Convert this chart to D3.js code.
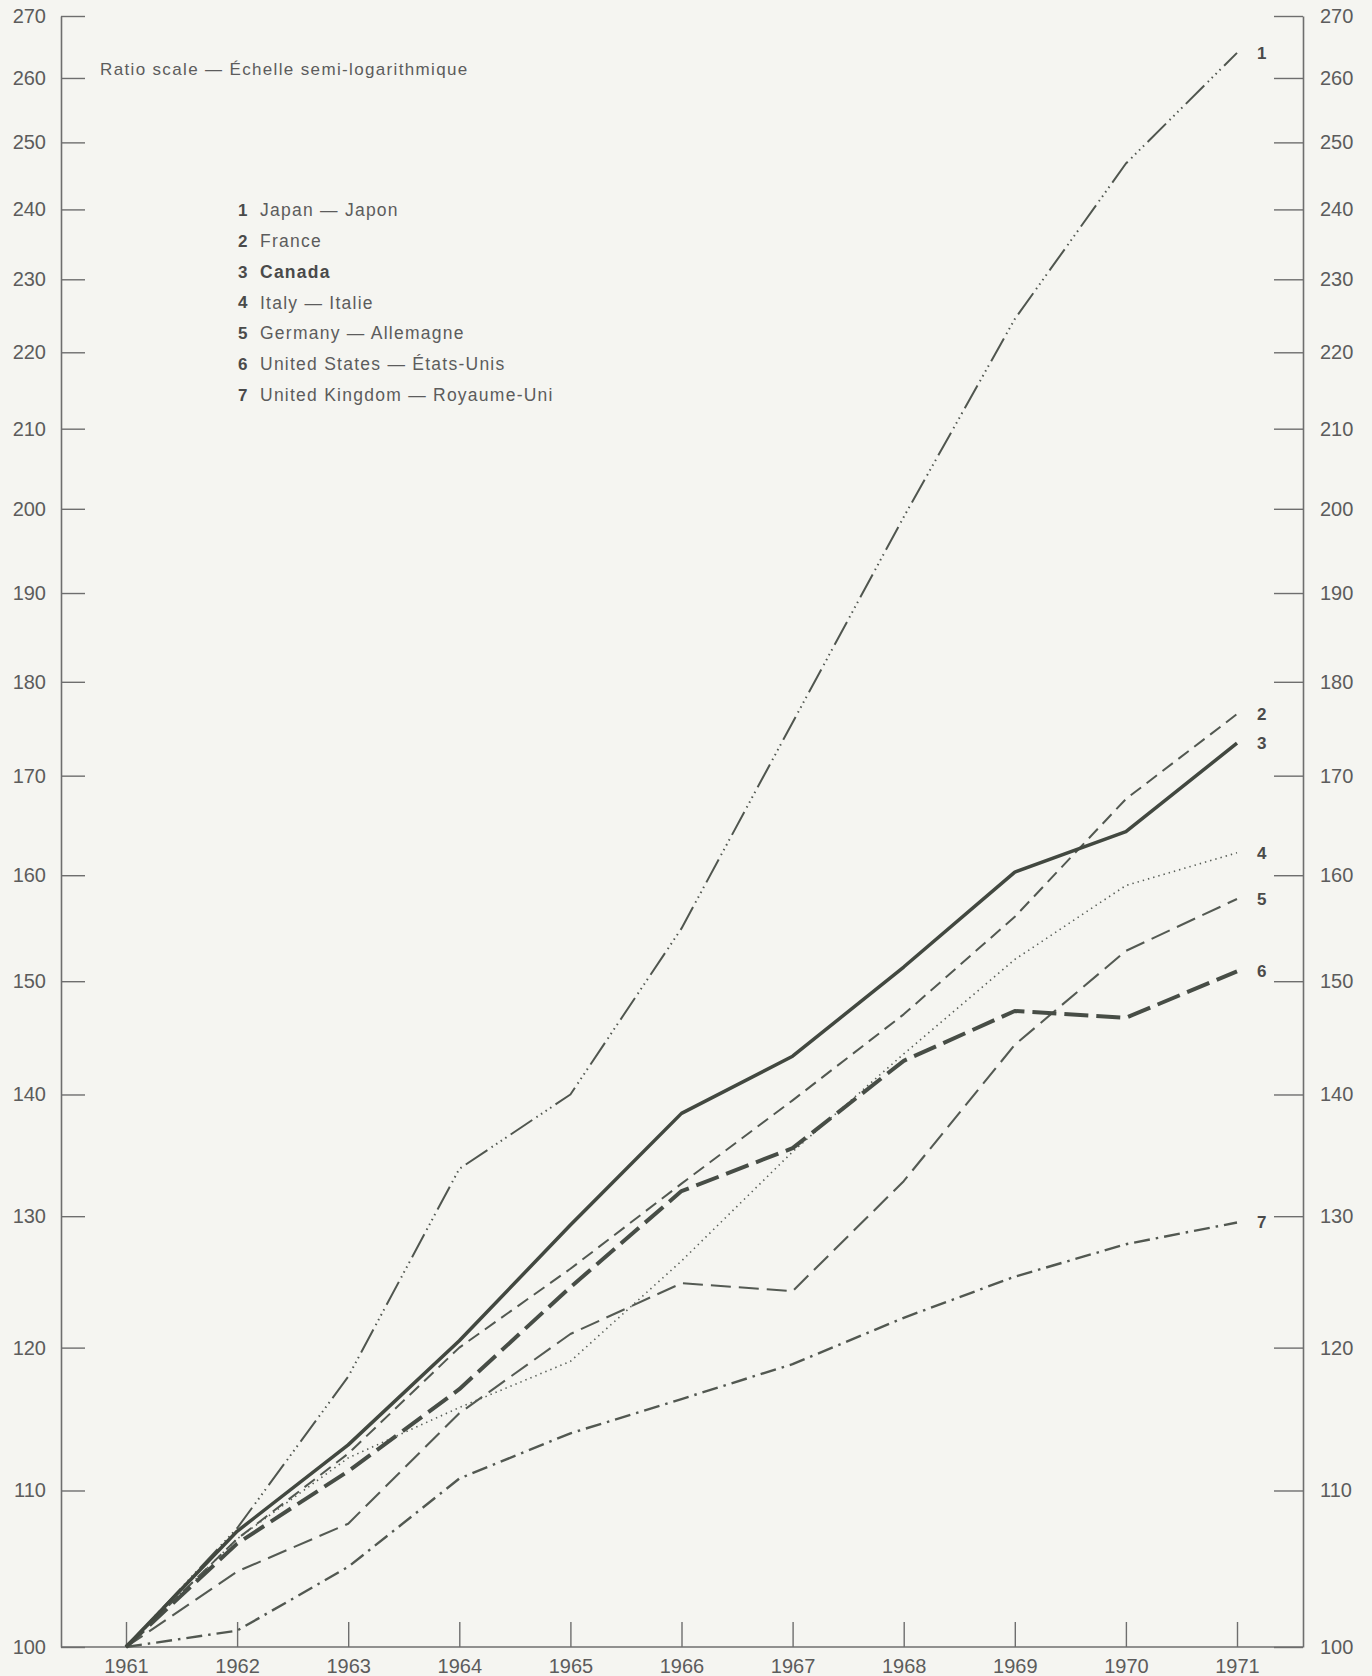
<!DOCTYPE html>
<html>
<head>
<meta charset="utf-8">
<script src="https://cdn.jsdelivr.net/npm/d3@7"></script>
<style>
  html, body { margin: 0; padding: 0; background: #f5f5f1; }
  svg { display: block; }
  text { font-family: "Liberation Sans", Arial, Helvetica, sans-serif; }
</style>
</head>
<body>
<svg id="chart" width="1372" height="1676"></svg>
<script>
// ---- Data (index, 1961 = 100) ----
const years = [1961, 1962, 1963, 1964, 1965, 1966, 1967, 1968, 1969, 1970, 1971];
const yTicks = [100, 110, 120, 130, 140, 150, 160, 170, 180, 190, 200, 210, 220, 230, 240, 250, 260, 270];

const seriesNumbers = ["1", "2", "3", "4", "5", "6", "7"];
const seriesNames = [
  "Japan — Japon",
  "France",
  "Canada",
  "Italy — Italie",
  "Germany — Allemagne",
  "United States — États-Unis",
  "United Kingdom — Royaume-Uni"
];

const japan   = [100, 107.5, 117.9, 133.8, 140.0, 154.9, 175.6, 199.0, 224.5, 246.8, 264.0];
const france  = [100, 106.8, 112.5, 120.0, 125.9, 132.6, 139.5, 147.0, 156.0, 167.6, 176.5];
const canada  = [100, 107.3, 113.1, 120.5, 129.3, 138.4, 143.3, 151.3, 160.3, 164.3, 173.4];
const italy   = [100, 106.8, 112.2, 115.7, 119.0, 126.5, 135.2, 143.5, 152.0, 159.0, 162.2];
const germany = [100, 104.7, 107.8, 115.3, 121.0, 124.8, 124.2, 132.8, 144.3, 152.8, 157.7];
const usa     = [100, 106.5, 111.3, 117.0, 124.5, 132.0, 135.5, 142.9, 147.3, 146.7, 150.9];
const uk      = [100, 101.0, 105.0, 110.8, 113.9, 116.3, 118.8, 122.2, 125.3, 127.8, 129.5];

const seriesValues = [japan, france, canada, italy, germany, usa, uk];

// ---- Styles ----
const lineStyles = [
  { width: 2.0, dash: "26 5 1.5 4 1.5 4 1.5 4 1.5 5", color: "#50564f" }, // Japan
  { width: 2.0, dash: "13 7",                       color: "#525851" }, // France
  { width: 3.5, dash: null,                         color: "#424840" }, // Canada
  { width: 1.6, dash: "1.4 4",                      color: "#575d56" }, // Italy
  { width: 2.1, dash: "20 8",                       color: "#545a53" }, // Germany
  { width: 4.0, dash: "24 8",                       color: "#474d46" }, // United States
  { width: 2.4, dash: "16 6 2.5 6",                 color: "#525851" }  // United Kingdom
];

const svg = d3.select("#chart");

const plotLeft = 61, plotRight = 1303, plotBottom = 1647, plotTop = 16;

const x = d3.scaleLinear().domain([1961, 1971]).range([126, 1237]);
const y = d3.scaleLog().domain([100, 270]).range([plotBottom, plotTop]);

const axisColor = "#6e6e6e";
const labelColor = "#5c5c5c";

// Left axis
const gl = svg.append("g").attr("transform", `translate(${plotLeft},0)`)
  .call(d3.axisLeft(y).tickValues(yTicks).tickFormat(d3.format("d"))
    .tickSize(-24).tickSizeOuter(0).tickPadding(15));
// Right axis
const gr = svg.append("g").attr("transform", `translate(${plotRight},0)`)
  .call(d3.axisRight(y).tickValues(yTicks).tickFormat(d3.format("d"))
    .tickSize(-29).tickSizeOuter(0).tickPadding(17));
// Bottom axis
const gb = svg.append("g").attr("transform", `translate(0,${plotBottom})`)
  .call(d3.axisBottom(x).tickValues(years).tickFormat(d3.format("d"))
    .tickSize(-25).tickSizeOuter(0).tickPadding(12));
gb.select(".domain").remove();
svg.append("line")
  .attr("x1", plotLeft).attr("x2", plotRight)
  .attr("y1", plotBottom).attr("y2", plotBottom)
  .attr("stroke", axisColor).attr("stroke-width", 1.6);

[gl, gr, gb].forEach(g => {
  g.selectAll(".domain").attr("stroke", axisColor).attr("stroke-width", 1.6);
  g.selectAll(".tick line").attr("stroke", axisColor).attr("stroke-width", 1.4);
  g.selectAll(".tick text")
    .attr("fill", labelColor)
    .style("font-size", "20px")
    .style("font-family", "'Liberation Sans', Arial, sans-serif");
});

// Subtitle
svg.append("text")
  .attr("x", 100).attr("y", 75)
  .attr("fill", labelColor)
  .style("font-size", "17px")
  .style("letter-spacing", "1.35px")
  .text("Ratio scale — Échelle semi-logarithmique");

// Legend
const legend = svg.append("g");
seriesNames.forEach((name, i) => {
  const yy = 210 + i * 30.8;
  legend.append("text")
    .attr("x", 238).attr("y", yy).attr("dy", "0.35em")
    .attr("fill", "#4a4a4a")
    .style("font-size", "17px").style("font-weight", "bold")
    .text(seriesNumbers[i]);
  legend.append("text")
    .attr("x", 260).attr("y", yy).attr("dy", "0.35em")
    .attr("fill", i === 2 ? "#4a4a4a" : labelColor)
    .style("font-size", "17.5px")
    .style("letter-spacing", "1.25px")
    .style("font-weight", i === 2 ? "bold" : "normal")
    .text(name);
});

// Lines
const line = d3.line().x((d, i) => x(years[i])).y(d => y(d));
const order = [6, 4, 3, 0, 1, 5, 2];
order.forEach(i => {
  const st = lineStyles[i];
  svg.append("path")
    .datum(seriesValues[i])
    .attr("d", line)
    .attr("fill", "none")
    .attr("stroke", st.color)
    .attr("stroke-width", st.width)
    .attr("stroke-linejoin", "round")
    .attr("stroke-dasharray", st.dash);
});

// End labels
seriesValues.forEach((vals, i) => {
  svg.append("text")
    .attr("x", x(years[years.length - 1]) + 20)
    .attr("y", y(vals[vals.length - 1]))
    .attr("dy", "0.35em")
    .attr("fill", "#4a4a4a")
    .style("font-size", "17px").style("font-weight", "bold")
    .text(seriesNumbers[i]);
});
</script>
</body>
</html>
